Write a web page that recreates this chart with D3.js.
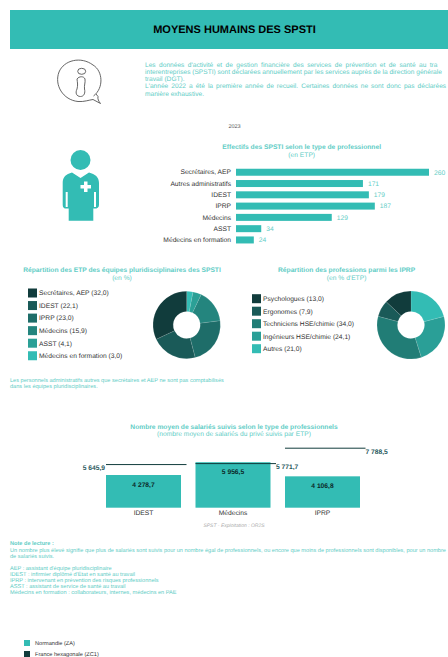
<!DOCTYPE html>
<html lang="fr">
<head>
<meta charset="utf-8">
<script src="https://cdn.jsdelivr.net/npm/d3@7"></script>
<style>
  html, body { margin: 0; padding: 0; background: #fff; overflow: hidden; }
  svg { display: block; font-family: "Liberation Sans", Arial, sans-serif; text-rendering: geometricPrecision; }
</style>
</head>
<body>
<svg id="page" width="448" height="657" viewBox="0 0 448 657"></svg>
<script>
// effectifs
const staffCategories = ["Secrétaires, AEP", "Autres administratifs", "IDEST", "IPRP", "Médecins", "ASST", "Médecins en formation"];
const staffValues = [260, 171, 179, 187, 129, 34, 24];

// donut ETP
const etpLabels = ["Secrétaires, AEP", "IDEST", "IPRP", "Médecins", "ASST", "Médecins en formation"];
const etpValues = [32.0, 22.1, 23.0, 15.9, 4.1, 3.0];
const etpColors = ["#113c3c", "#1a5a58", "#1e6d69", "#24857e", "#2ba096", "#33bcb4"];

// donut IPRP
const iprpLabels = ["Psychologues", "Ergonomes", "Techniciens HSE/chimie", "Ingénieurs HSE/chimie", "Autres"];
const iprpValues = [13.0, 7.9, 34.0, 24.1, 21.0];
const iprpColors = ["#113c3c", "#1a5a58", "#217d76", "#2a9f97", "#33bcb4"];

// salariés suivis
const followCategories = ["IDEST", "Médecins", "IPRP"];
const followRegion = [4278.7, 5956.5, 4106.8];
const followFrance = [5645.9, 5771.7, 7788.5];

// le texte s'arrete au bord de la page, comme sur la reference
const introLines = [
  "Les données d'activité et de gestion financière des services de prévention et de santé au tra",
  "interentreprises (SPSTI) sont déclarées annuellement par les services auprès de la direction générale",
  "travail (DGT).",
  "L'année 2022 a été la première année de recueil. Certaines données ne sont donc pas déclarées",
  "manière exhaustive."
];
const noteLines = [
  "Un nombre plus élevé signifie que plus de salariés sont suivis pour un nombre égal de professionnels, ou encore que moins de professionnels sont disponibles, pour un nombre",
  "de salariés suivis.",
  "",
  "AEP : assistant d'équipe pluridisciplinaire",
  "IDEST : infirmier diplômé d'État en santé au travail",
  "IPRP : intervenant en prévention des risques professionnels",
  "ASST : assistant de service de santé au travail",
  "Médecins en formation : collaborateurs, internes, médecins en PAE"
];

const teal = "#33bcb4";
const lightTeal = "#62cdc6";
const dark = "#113c3c";
const grey = "#333";

const svg = d3.select("#page");

function label(x, y, str, size, color, anchor, bold) {
  return svg.append("text")
    .attr("x", x)
    .attr("y", y)
    .attr("dy", "0.35em")
    .attr("font-size", size)
    .attr("fill", color)
    .attr("text-anchor", anchor || "start")
    .attr("font-weight", bold ? "bold" : "normal")
    .text(str);
}

// banner
svg.append("rect").attr("x", 10).attr("y", 10).attr("width", 438).attr("height", 39).attr("fill", teal);
label(234.5, 29, "MOYENS HUMAINS DES SPSTI", 11, "#000", "middle", true);

// info icon
const info = svg.append("g").attr("fill", "none").attr("stroke", "#555").attr("stroke-width", 0.9);
info.append("path").attr("d", "M93.5 96 C104 88 103 71 93 65 C81 56 64 60 59 72 C54 85 63 100 78 101.5 C84 102 89 100 93 99.5 L100.5 103.5 C98.5 101 97.5 99 98 96.5 L96 94");
info.append("ellipse").attr("cx", 81.7).attr("cy", 71.3).attr("rx", 4).attr("ry", 3);
info.append("path").attr("d", "M77 79 C79 76 84 76 85 79 C85.5 83 84 85 84.5 89 C85.5 93 84 96.5 80.5 96.5 C76.5 96.5 75 93 77 89 C78 85 77.5 83 77 79 Z");

// intro
const introSpacing = [1.6, 0, 0, 1.2, 0];
const introY = [64.5, 71.5, 78.5, 85.5, 93.5];
introLines.forEach((t, i) => {
  label(145, introY[i], t, 6.6, lightTeal).attr("word-spacing", introSpacing[i]);
});
label(234.5, 126, "2023", 5.5, "#555", "middle");

// nurse icon
const nurse = svg.append("g");
nurse.append("circle").attr("cx", 80.5).attr("cy", 160).attr("r", 10).attr("fill", teal);
nurse.append("path").attr("fill", teal)
  .attr("d", "M72 172.5 L80.5 178 L89 172.5 C95 174 99 177 99 183 L99 205 C99 208 96 209 94 208.5 L93.3 208.5 L93.3 220.7 L68.7 220.7 L68.7 208.5 L67 208.5 C65 209 62.7 208 62.7 205 L62.7 183 C62.7 177 66 174 72 172.5 Z");
nurse.append("path").attr("fill", "#fff")
  .attr("d", "M84 181.5 H87.5 V185 H91 V188.5 H87.5 V192 H84 V188.5 H80.5 V185 H84 Z");
nurse.append("rect").attr("x", 65.7).attr("y", 192).attr("width", 2).attr("height", 15).attr("fill", "#fff");
nurse.append("rect").attr("x", 94).attr("y", 192).attr("width", 2).attr("height", 15).attr("fill", "#fff");

// effectifs bars
label(301.7, 147, "Effectifs des SPSTI selon le type de professionnel", 6.7, lightTeal, "middle", true);
label(301.7, 155, "(en ETP)", 6.7, lightTeal, "middle");

const xStaff = d3.scaleLinear().domain([0, 260]).range([236, 429]);
const yStaff = d3.scaleBand().domain(staffCategories).range([166.6, 245.6]).paddingInner(0.38).paddingOuter(0.19);

svg.append("g").selectAll("rect").data(staffCategories).join("rect")
  .attr("x", xStaff(0))
  .attr("y", d => yStaff(d))
  .attr("width", (d, i) => xStaff(staffValues[i]) - xStaff(0))
  .attr("height", yStaff.bandwidth())
  .attr("fill", teal);

const staffAxis = svg.append("g")
  .attr("transform", "translate(231,0)")
  .call(d3.axisLeft(yStaff).tickSize(0).tickPadding(0));
staffAxis.select(".domain").remove();
staffAxis.selectAll("text").attr("font-size", 6.7).attr("fill", grey).attr("font-family", "inherit");

svg.append("g").selectAll("text").data(staffValues).join("text")
  .attr("x", d => xStaff(d) + 5)
  .attr("y", (d, i) => yStaff(staffCategories[i]) + yStaff.bandwidth() / 2)
  .attr("dy", "0.35em")
  .attr("font-size", 6.7)
  .attr("fill", lightTeal)
  .text(d => d);

// donuts
function donut(values, colors, cx, cy, outer, inner) {
  const pie = d3.pie().sort(null)(values.slice().reverse());
  const arc = d3.arc().outerRadius(outer).innerRadius(inner);
  const rev = colors.slice().reverse();
  svg.append("g").attr("transform", `translate(${cx},${cy})`)
    .selectAll("path").data(pie).join("path")
    .attr("d", arc)
    .attr("fill", (d, i) => rev[i])
    .attr("stroke", "#fff")
    .attr("stroke-opacity", 0.35)
    .attr("stroke-width", 0.3);
}

function legend(labels, values, colors, x, y0, step) {
  labels.forEach((name, i) => {
    const y = y0 + i * step;
    svg.append("rect")
      .attr("x", x).attr("y", y - 4.5)
      .attr("width", 9).attr("height", 9)
      .attr("fill", colors[i]);
    label(x + 11, y, `${name} (${values[i].toFixed(1).replace(".", ",")})`, 6.7, grey);
  });
}

label(122, 270, "Répartition des ETP des équipes pluridisciplinaires des SPSTI", 6.7, lightTeal, "middle", true);
label(122, 278, "(en %)", 6.7, lightTeal, "middle");
legend(etpLabels, etpValues, etpColors, 28, 293, 12.55);
donut(etpValues, etpColors, 186.7, 325, 33.7, 13.5);
label(10, 380, "Les personnels administratifs autres que secrétaires et AEP ne sont pas comptabilisés", 5.6, lightTeal);
label(10, 386, "dans les équipes pluridisciplinaires.", 5.6, lightTeal);

label(346.6, 270, "Répartition des professions parmi les IPRP", 6.7, lightTeal, "middle", true);
label(346.6, 278, "(en % d'ETP)", 6.7, lightTeal, "middle");
legend(iprpLabels, iprpValues, iprpColors, 252, 298.7, 12.5);
donut(iprpValues, iprpColors, 411, 325, 34, 13.5);

// salariés suivis
label(234, 426.5, "Nombre moyen de salariés suivis selon le type de professionnels", 6.7, lightTeal, "middle", true);
label(234, 434, "(nombre moyen de salariés du privé suivis par ETP)", 6.7, lightTeal, "middle");

const xFollow = d3.scaleBand().domain(followCategories).range([106, 360]).paddingInner(0.162).paddingOuter(0);
const yFollow = d3.scaleLinear().domain([0, 7788.5]).range([507.7, 448.2]);
const fmt = v => v.toFixed(1).replace(".", ",").replace(/^(\d)(\d{3})/, "$1 $2");

svg.append("g").selectAll("rect").data(followCategories).join("rect")
  .attr("x", d => xFollow(d))
  .attr("y", (d, i) => yFollow(followRegion[i]))
  .attr("width", xFollow.bandwidth())
  .attr("height", (d, i) => yFollow(0) - yFollow(followRegion[i]))
  .attr("fill", teal);

svg.append("g").selectAll("line").data(followCategories).join("line")
  .attr("x1", d => xFollow(d))
  .attr("x2", d => xFollow(d) + xFollow.bandwidth() + 5.5)
  .attr("y1", (d, i) => yFollow(followFrance[i]))
  .attr("y2", (d, i) => yFollow(followFrance[i]))
  .attr("stroke", dark)
  .attr("stroke-width", 1);

svg.append("g").selectAll("text").data(followRegion).join("text")
  .attr("x", (d, i) => xFollow(followCategories[i]) + xFollow.bandwidth() / 2)
  .attr("y", d => yFollow(d) + 9.5)
  .attr("dy", "0.35em")
  .attr("text-anchor", "middle")
  .attr("font-size", 6.7)
  .attr("font-weight", "bold")
  .attr("fill", "#0c2a2a")
  .text(fmt);

// valeurs France : à gauche pour la première, à droite ensuite
followFrance.forEach((v, i) => {
  const band = xFollow(followCategories[i]);
  const y = yFollow(v) + 3;
  if (i === 0) label(band - 1, y, fmt(v), 6.7, "#2a5a60", "end", true);
  else label(band + xFollow.bandwidth() + 5.5, y, fmt(v), 6.7, "#2a5a60", "start", true);
});

const followAxis = svg.append("g")
  .attr("transform", `translate(0,${yFollow(0)})`)
  .call(d3.axisBottom(xFollow).tickSize(0).tickPadding(2.5));
followAxis.select(".domain").remove();
followAxis.selectAll("text").attr("font-size", 6.7).attr("fill", grey).attr("font-family", "inherit");

label(234, 525, "SPST - Exploitation : OR2S", 5, "#aaa", "middle").attr("font-style", "italic");

// notes
label(10, 543.3, "Note de lecture :", 5.6, lightTeal, "start", true);
const noteY = [550, 556, 562, 568, 574, 580, 586, 592];
noteLines.forEach((t, i) => {
  if (t) label(10, noteY[i], t, 5.6, lightTeal);
});

// legende du bas
const bottomLegend = [["Normandie (ZA)", teal, 643], ["France hexagonale (ZC1)", dark, 654]];
bottomLegend.forEach(([t, c, y]) => {
  svg.append("rect").attr("x", 24).attr("y", y - 3).attr("width", 6).attr("height", 6).attr("fill", c);
  label(35, y, t, 5.6, grey);
});
</script>
</body>
</html>
